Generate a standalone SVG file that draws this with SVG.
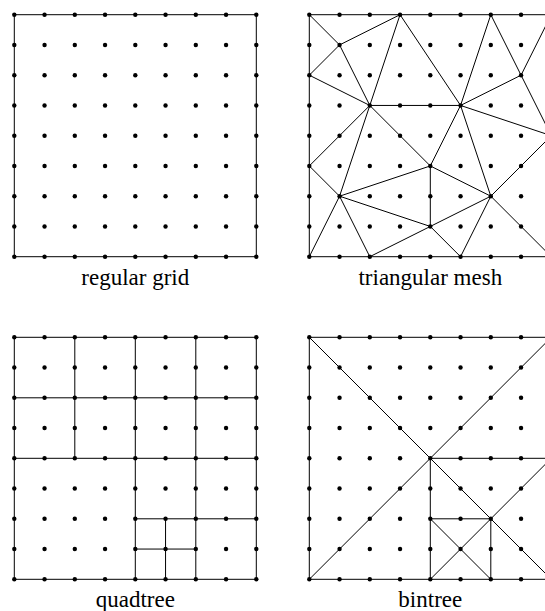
<svg xmlns="http://www.w3.org/2000/svg" xmlns:xlink="http://www.w3.org/1999/xlink" width="545" height="611" viewBox="0 0 545 611">
<style>
.ln{fill:none;stroke:#000;stroke-width:1}
.lbl{font-family:'Liberation Serif','Times New Roman',serif;font-size:23px;fill:#000;text-anchor:middle}
.dot{fill:#000}
</style>
<defs>
<g id="dots" class="dot">
<circle cx="0" cy="0" r="2.2"/><circle cx="30.25" cy="0" r="2.2"/><circle cx="60.5" cy="0" r="2.2"/><circle cx="90.75" cy="0" r="2.2"/><circle cx="121" cy="0" r="2.2"/><circle cx="151.25" cy="0" r="2.2"/><circle cx="181.5" cy="0" r="2.2"/><circle cx="211.75" cy="0" r="2.2"/><circle cx="242" cy="0" r="2.2"/>
<circle cx="0" cy="30.25" r="2.2"/><circle cx="30.25" cy="30.25" r="2.2"/><circle cx="60.5" cy="30.25" r="2.2"/><circle cx="90.75" cy="30.25" r="2.2"/><circle cx="121" cy="30.25" r="2.2"/><circle cx="151.25" cy="30.25" r="2.2"/><circle cx="181.5" cy="30.25" r="2.2"/><circle cx="211.75" cy="30.25" r="2.2"/><circle cx="242" cy="30.25" r="2.2"/>
<circle cx="0" cy="60.5" r="2.2"/><circle cx="30.25" cy="60.5" r="2.2"/><circle cx="60.5" cy="60.5" r="2.2"/><circle cx="90.75" cy="60.5" r="2.2"/><circle cx="121" cy="60.5" r="2.2"/><circle cx="151.25" cy="60.5" r="2.2"/><circle cx="181.5" cy="60.5" r="2.2"/><circle cx="211.75" cy="60.5" r="2.2"/><circle cx="242" cy="60.5" r="2.2"/>
<circle cx="0" cy="90.75" r="2.2"/><circle cx="30.25" cy="90.75" r="2.2"/><circle cx="60.5" cy="90.75" r="2.2"/><circle cx="90.75" cy="90.75" r="2.2"/><circle cx="121" cy="90.75" r="2.2"/><circle cx="151.25" cy="90.75" r="2.2"/><circle cx="181.5" cy="90.75" r="2.2"/><circle cx="211.75" cy="90.75" r="2.2"/><circle cx="242" cy="90.75" r="2.2"/>
<circle cx="0" cy="121" r="2.2"/><circle cx="30.25" cy="121" r="2.2"/><circle cx="60.5" cy="121" r="2.2"/><circle cx="90.75" cy="121" r="2.2"/><circle cx="121" cy="121" r="2.2"/><circle cx="151.25" cy="121" r="2.2"/><circle cx="181.5" cy="121" r="2.2"/><circle cx="211.75" cy="121" r="2.2"/><circle cx="242" cy="121" r="2.2"/>
<circle cx="0" cy="151.25" r="2.2"/><circle cx="30.25" cy="151.25" r="2.2"/><circle cx="60.5" cy="151.25" r="2.2"/><circle cx="90.75" cy="151.25" r="2.2"/><circle cx="121" cy="151.25" r="2.2"/><circle cx="151.25" cy="151.25" r="2.2"/><circle cx="181.5" cy="151.25" r="2.2"/><circle cx="211.75" cy="151.25" r="2.2"/><circle cx="242" cy="151.25" r="2.2"/>
<circle cx="0" cy="181.5" r="2.2"/><circle cx="30.25" cy="181.5" r="2.2"/><circle cx="60.5" cy="181.5" r="2.2"/><circle cx="90.75" cy="181.5" r="2.2"/><circle cx="121" cy="181.5" r="2.2"/><circle cx="151.25" cy="181.5" r="2.2"/><circle cx="181.5" cy="181.5" r="2.2"/><circle cx="211.75" cy="181.5" r="2.2"/><circle cx="242" cy="181.5" r="2.2"/>
<circle cx="0" cy="211.75" r="2.2"/><circle cx="30.25" cy="211.75" r="2.2"/><circle cx="60.5" cy="211.75" r="2.2"/><circle cx="90.75" cy="211.75" r="2.2"/><circle cx="121" cy="211.75" r="2.2"/><circle cx="151.25" cy="211.75" r="2.2"/><circle cx="181.5" cy="211.75" r="2.2"/><circle cx="211.75" cy="211.75" r="2.2"/><circle cx="242" cy="211.75" r="2.2"/>
<circle cx="0" cy="242" r="2.2"/><circle cx="30.25" cy="242" r="2.2"/><circle cx="60.5" cy="242" r="2.2"/><circle cx="90.75" cy="242" r="2.2"/><circle cx="121" cy="242" r="2.2"/><circle cx="151.25" cy="242" r="2.2"/><circle cx="181.5" cy="242" r="2.2"/><circle cx="211.75" cy="242" r="2.2"/><circle cx="242" cy="242" r="2.2"/>
</g>
</defs>

<g id="regular-grid" transform="translate(14.3,14.7)">
<rect class="ln" x="0" y="0" width="242" height="242"/>
<use xlink:href="#dots" href="#dots"/>
<text class="lbl" x="121" y="270">regular grid</text>
</g>

<g id="triangular-mesh" transform="translate(309.3,14.7)">
<rect class="ln" x="0" y="0" width="242" height="242"/>
<path class="ln" d="M0,0L30.25,30.25M30.25,30.25L90.75,0M30.25,30.25L0,60.5M30.25,30.25L60.5,90.75M0,60.5L60.5,90.75M90.75,0L60.5,90.75M90.75,0L151.25,90.75M60.5,90.75L151.25,90.75M181.5,0L151.25,90.75M181.5,0L211.75,60.5M211.75,60.5L242,0M211.75,60.5L242,121M151.25,90.75L211.75,60.5M151.25,90.75L242,121M60.5,90.75L0,151.25M60.5,90.75L121,151.25M60.5,90.75L30.25,181.5M151.25,90.75L121,151.25M151.25,90.75L181.5,181.5M0,151.25L30.25,181.5M30.25,181.5L121,151.25M121,151.25L121,211.75M121,151.25L181.5,181.5M30.25,181.5L121,211.75M30.25,181.5L0,242M30.25,181.5L60.5,242M60.5,242L121,211.75M121,211.75L181.5,181.5M121,211.75L151.25,242M181.5,181.5L151.25,242M181.5,181.5L242,121M181.5,181.5L242,242"/>
<use xlink:href="#dots" href="#dots"/>
<text class="lbl" x="121" y="270">triangular mesh</text>
</g>

<g id="quadtree" transform="translate(14.3,337.3)">
<rect class="ln" x="0" y="0" width="242" height="242"/>
<path class="ln" d="M60.5,0V121M121,0V242M181.5,0V242M0,60.5H242M0,121H242M121,181.5H242M121,211.75H181.5M151.25,181.5V242"/>
<use xlink:href="#dots" href="#dots"/>
<text class="lbl" x="121" y="269.5">quadtree</text>
</g>

<g id="bintree" transform="translate(309.3,337.3)">
<rect class="ln" x="0" y="0" width="242" height="242"/>
<path class="ln" d="M0,0L242,242M0,242L242,0M121,121H242M121,121V242M181.5,181.5L242,121M121,181.5H181.5M181.5,181.5V242M121,181.5L181.5,242M121,242L181.5,181.5"/>
<use xlink:href="#dots" href="#dots"/>
<text class="lbl" x="121" y="269.5">bintree</text>
</g>
</svg>
